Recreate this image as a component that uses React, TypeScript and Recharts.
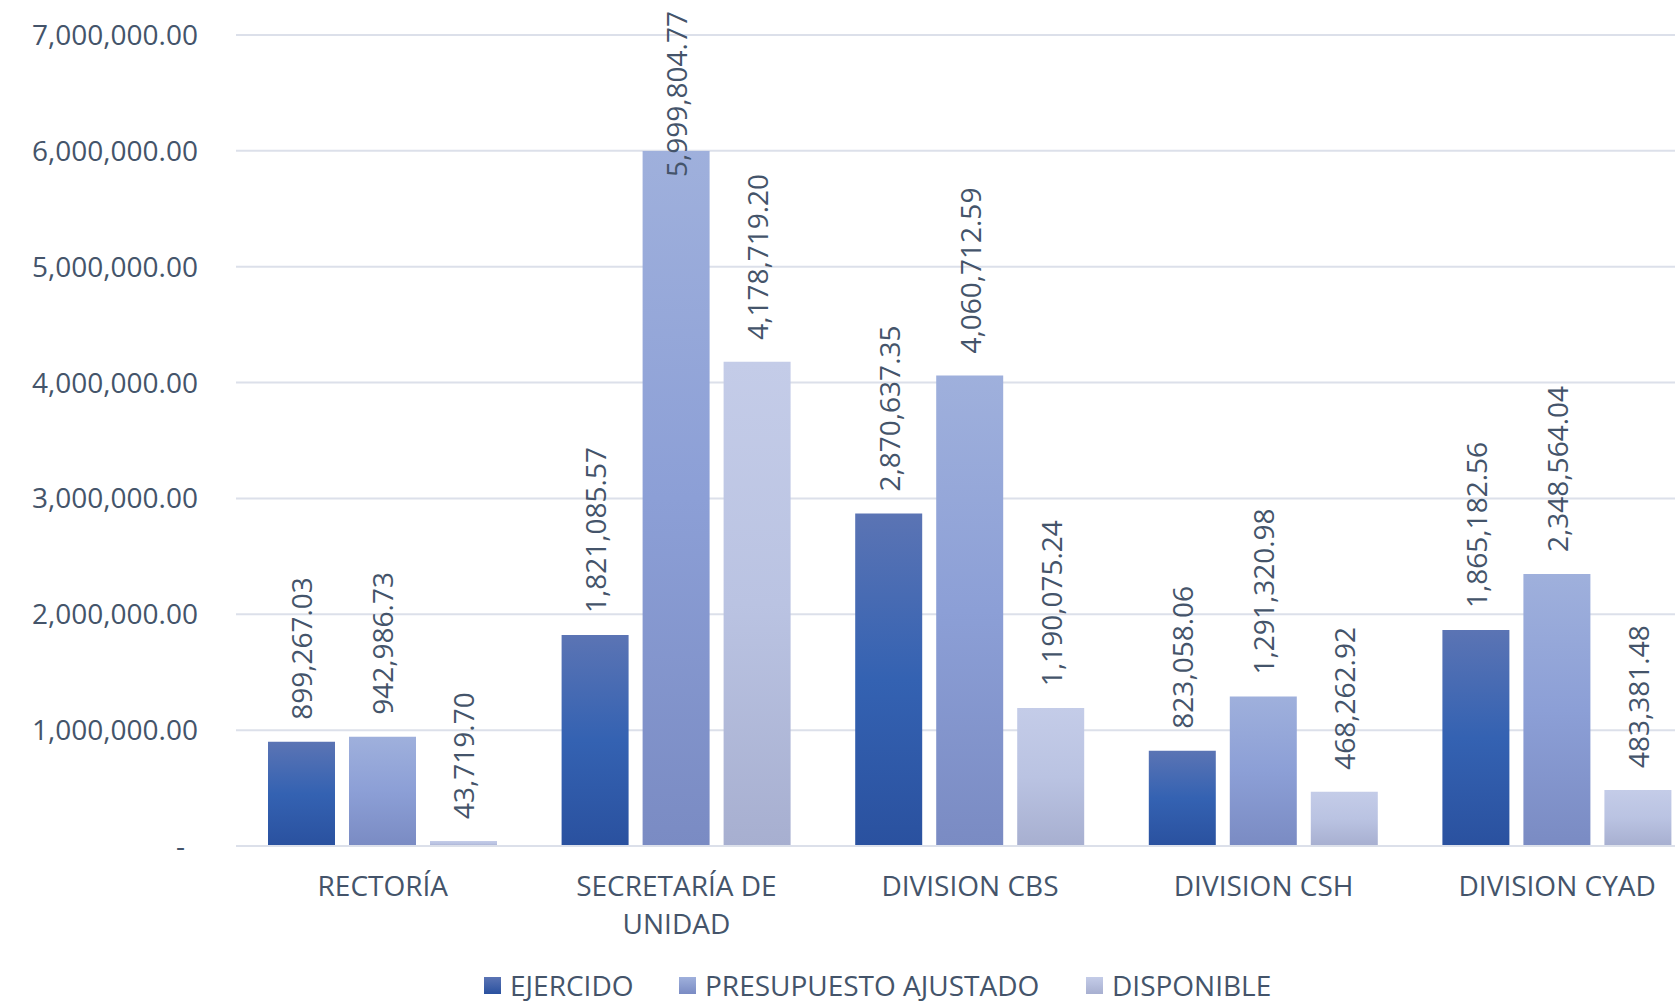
import React from 'react';
import {
  BarChart,
  Bar,
  XAxis,
  YAxis,
  CartesianGrid,
  Legend,
  LabelList,
} from 'recharts';

const categories = ['RECTORÍA', 'SECRETARÍA DE UNIDAD', 'DIVISION CBS', 'DIVISION CSH', 'DIVISION CYAD'];
const ejercido = [899267.03, 1821085.57, 2870637.35, 823058.06, 1865182.56];
const presupuestoAjustado = [942986.73, 5999804.77, 4060712.59, 1291320.98, 2348564.04];
const disponible = [43719.7, 4178719.2, 1190075.24, 468262.92, 483381.48];
const yTicks = [0, 1000000, 2000000, 3000000, 4000000, 5000000, 6000000, 7000000];

const TEXT = '#44546A';
const GRID = '#DCE0EA';
const FONT = '"Open Sans", sans-serif';
const FS = 28;

const SERIES = [
  { key: 'ejercido', name: 'EJERCIDO', id: 'gEje', stops: ['#5B74B4', '#3462B2', '#2A519F'] },
  { key: 'presupuesto', name: 'PRESUPUESTO AJUSTADO', id: 'gPre', stops: ['#9FB0DC', '#8C9FD6', '#7A8BC3'] },
  { key: 'disponible', name: 'DISPONIBLE', id: 'gDis', stops: ['#C4CCE8', '#BAC3E2', '#A7AFD0'] },
];

const data = categories.map((name, i) => ({
  name,
  ejercido: ejercido[i],
  presupuesto: presupuestoAjustado[i],
  disponible: disponible[i],
}));

const fmt = (v: number) => v.toLocaleString('en-US', { minimumFractionDigits: 2, maximumFractionDigits: 2 });

function textLen(s: string, size: number) {
  let w = 0;
  for (const c of s) w += c === ',' || c === '.' ? 0.26 : 0.572;
  return w * size;
}

function ValueLabel(props: any) {
  const { x, y, width, value } = props;
  const cx = Number(x) + Number(width) / 2;
  const s = fmt(Number(value));
  let py = Number(y) - 22;
  let anchor = 'start';
  if (py - textLen(s, FS) < 8) {
    py = 11;
    anchor = 'end';
  }
  return (
    <text
      x={cx}
      y={py}
      transform={`rotate(-90, ${cx}, ${py})`}
      textAnchor={anchor}
      dominantBaseline="central"
      fill={TEXT}
      fontSize={FS}
      fontFamily={FONT}
    >
      {s}
    </text>
  );
}

function YTick(props: any) {
  const { x, y, payload } = props;
  const v = payload.value;
  return (
    <text x={v === 0 ? x - 13 : x} y={y} dy="0.355em" textAnchor="end" fill={TEXT} fontSize={FS} fontFamily={FONT}>
      {v === 0 ? '-' : fmt(v)}
    </text>
  );
}

function XTick(props: any) {
  const { x, y, payload } = props;
  const words = String(payload.value).split(' ');
  const lines: string[] = [];
  let cur = '';
  words.forEach(w => {
    const next = cur ? cur + ' ' + w : w;
    if (next.length > 14 && cur) {
      lines.push(cur);
      cur = w;
    } else {
      cur = next;
    }
  });
  if (cur) lines.push(cur);
  return (
    <text x={x} y={y + 42} textAnchor="middle" fill={TEXT} fontSize={FS} fontFamily={FONT}>
      {lines.map((l, i) => (
        <tspan key={i} x={x} dy={i === 0 ? 0 : 38}>
          {l}
        </tspan>
      ))}
    </text>
  );
}

const LEGEND_LEFT = [484, 679, 1086];

function LegendContent() {
  return (
    <div style={{ position: 'relative', height: 57, width: 1675 }}>
      {SERIES.map((s, i) => (
        <div
          key={s.key}
          style={{
            position: 'absolute',
            left: LEGEND_LEFT[i],
            top: 24,
            height: 31,
            display: 'flex',
            alignItems: 'center',
            fontFamily: FONT,
            fontSize: FS,
            color: TEXT,
            whiteSpace: 'nowrap',
            lineHeight: '31px',
          }}
        >
          <span
            style={{
              display: 'inline-block',
              width: 17,
              height: 17,
              marginRight: 9,
              background: `linear-gradient(${s.stops[0]}, ${s.stops[2]})`,
            }}
          />
          {s.name}
        </div>
      ))}
    </div>
  );
}

export default function App() {
  return (
    <div
      style={{
        position: 'absolute',
        left: 0,
        top: 0,
        width: 1675,
        height: 1003,
        overflow: 'hidden',
        background: '#fff',
      }}
    >
      <BarChart
        width={1704}
        height={1003}
        data={data}
        margin={{ top: 35, right: 0, left: 0, bottom: 0 }}
        barSize={67}
        barGap={14}
      >
        <defs>
          {SERIES.map(s => (
            <linearGradient key={s.id} id={s.id} x1="0" y1="0" x2="0" y2="1">
              <stop offset="0%" stopColor={s.stops[0]} />
              <stop offset="50%" stopColor={s.stops[1]} />
              <stop offset="100%" stopColor={s.stops[2]} />
            </linearGradient>
          ))}
        </defs>
        <CartesianGrid vertical={false} stroke={GRID} strokeWidth={2} />
        <XAxis
          dataKey="name"
          height={100}
          tickLine={false}
          axisLine={{ stroke: GRID, strokeWidth: 2 }}
          tick={<XTick />}
          interval={0}
        />
        <YAxis
          width={236}
          domain={[0, 7000000]}
          ticks={yTicks}
          tickLine={false}
          axisLine={false}
          tickMargin={32}
          tick={<YTick />}
        />
        <Legend verticalAlign="bottom" content={<LegendContent />} wrapperStyle={{ left: 0, width: 1675, height: 57 }} />
        {SERIES.map(s => (
          <Bar key={s.key} dataKey={s.key} name={s.name} fill={`url(#${s.id})`} isAnimationActive={false}>
            <LabelList dataKey={s.key} content={<ValueLabel />} />
          </Bar>
        ))}
      </BarChart>
    </div>
  );
}
